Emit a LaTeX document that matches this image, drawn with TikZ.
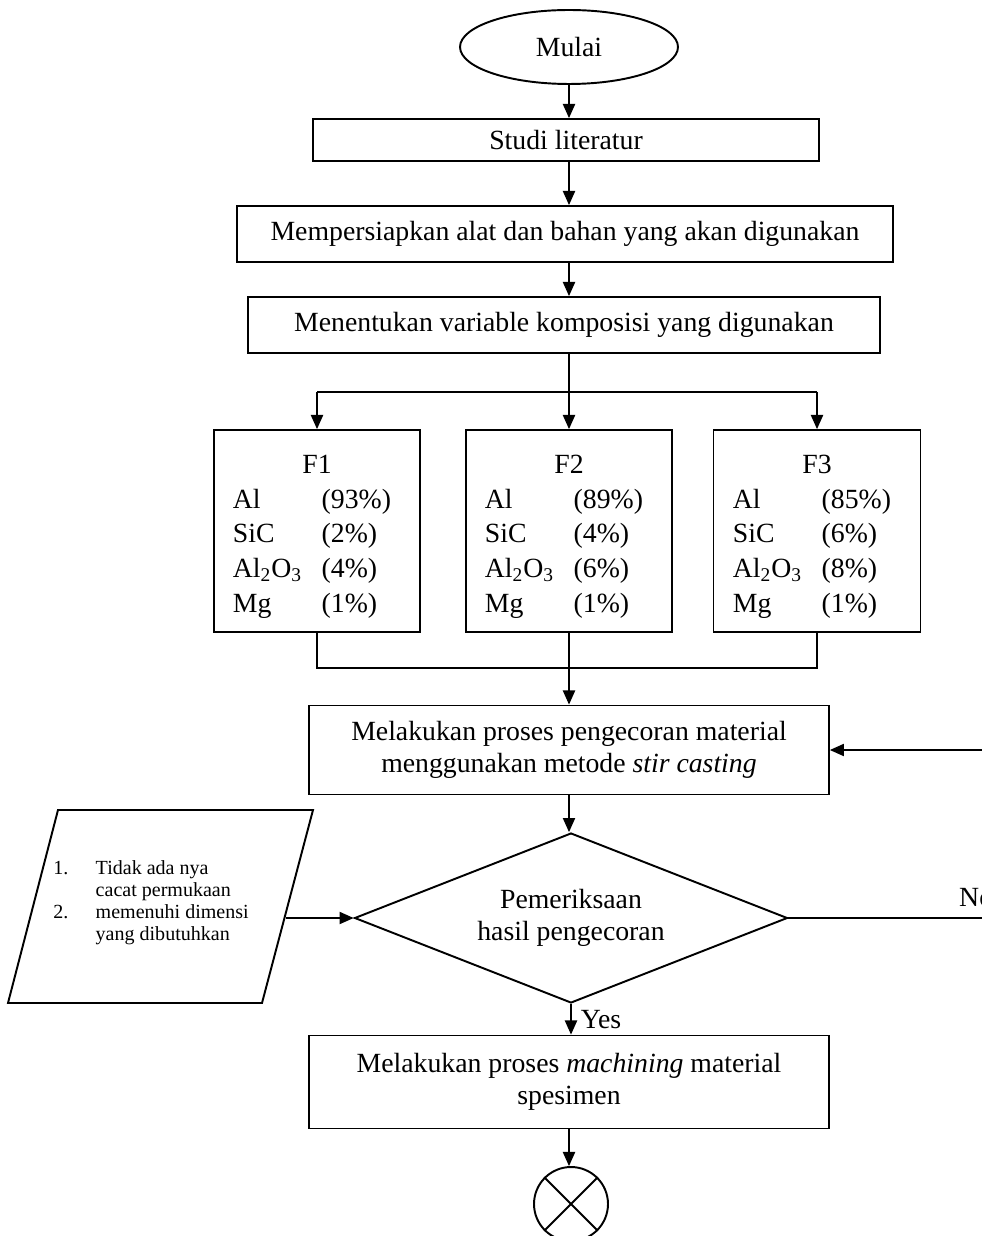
\documentclass[tikz,border=0pt]{standalone}
\usepackage{fontspec}
\setmainfont{Liberation Serif}
\usetikzlibrary{shapes.geometric,arrows.meta,positioning}

\begin{document}
\begin{tikzpicture}[x=0.02cm,y=-0.02cm,
    box/.style={draw,line width=1.1pt,inner sep=2pt,align=center,font=\fontsize{15.8}{18}\selectfont},
    fbox/.style={box,minimum width=4.12cm,minimum height=4.04cm,font=\fontsize{15.8}{18}\selectfont\renewcommand{\arraystretch}{1.1}},
    arr/.style={-{Triangle[length=8pt,width=7pt]},line width=0.6pt},
    ln/.style={line width=0.6pt},
    lbl/.style={font=\fontsize{15.8}{18}\selectfont}]
\useasboundingbox (0,0) rectangle (982,1236);
\node[box,ellipse,minimum width=4.36cm,minimum height=1.48cm] (mulai) at (569,47) {Mulai};
\node[box,minimum width=10.14cm,minimum height=0.84cm] (studi) at (566,140) {Studi literatur};
\node[box,minimum width=13.12cm,minimum height=1.12cm] (alat) at (565,234) {Mempersiapkan alat dan bahan yang akan digunakan};
\node[box,minimum width=12.64cm,minimum height=1.12cm] (var) at (564,325) {Menentukan variable komposisi yang digunakan};
% komposisi
\node[fbox] (f_1) at (317,531) {%
  \begin{tabular}{@{}p{50.5pt}@{}l@{\hspace{5.7pt}}}
  \multicolumn{2}{@{}c@{}}{F1}\\
  Al & (93\%)\\
  SiC & (2\%)\\
  Al\textsubscript{2}O\textsubscript{3} & (4\%)\\
  Mg & (1\%)\\[-5.6pt]
  \end{tabular}};
\node[fbox] (f_2) at (569,531) {%
  \begin{tabular}{@{}p{50.5pt}@{}l@{\hspace{5.7pt}}}
  \multicolumn{2}{@{}c@{}}{F2}\\
  Al & (89\%)\\
  SiC & (4\%)\\
  Al\textsubscript{2}O\textsubscript{3} & (6\%)\\
  Mg & (1\%)\\[-5.6pt]
  \end{tabular}};
\node[fbox,minimum width=4.14cm] (f_3) at (817,531) {%
  \begin{tabular}{@{}p{50.5pt}@{}l@{\hspace{5.7pt}}}
  \multicolumn{2}{@{}c@{}}{F3}\\
  Al & (85\%)\\
  SiC & (6\%)\\
  Al\textsubscript{2}O\textsubscript{3} & (8\%)\\
  Mg & (1\%)\\[-5.6pt]
  \end{tabular}};
\coordinate (split) at (569,392);
\coordinate (merge) at (569,668);
\node[box,minimum width=10.4cm,minimum height=1.78cm] (cor) at (569,750) {Melakukan proses pengecoran material\\menggunakan metode \textit{stir casting}};
\node[box,diamond,aspect=2.55,minimum width=8.66cm,minimum height=3.4cm,inner sep=0pt] (cek) at (571,918) {Pemeriksaan\\hasil pengecoran};
\node[font=\fontsize{11.4}{12.5}\selectfont,align=left] (syarat) at (151,903) {%
  \begin{tabular}{@{}l@{\hspace{15.6pt}}l@{}}
  1. & Tidak ada nya\\
     & cacat permukaan\\
  2. & memenuhi dimensi\\
     & yang dibutuhkan
  \end{tabular}};
\draw[line width=1.1pt] (58,810) -- (313,810) -- (262,1003) -- (8,1003) -- cycle;
\coordinate (syarat_out) at (286,918);
\node[box,minimum width=10.4cm,minimum height=1.86cm] (mach) at (569,1082) {Melakukan proses \textit{machining} material\\spesimen};
\node[draw,circle,line width=1.1pt,minimum size=1.48cm,inner sep=0pt] (end) at (571,1204) {};
\coordinate (loop) at (1000,918);
\draw[line width=1.1pt] (end.45) -- (end.225) (end.135) -- (end.-45);
\draw[arr] (mulai) -- (mulai.south |- studi.north);
\draw[arr] (studi.south -| mulai.south) -- (mulai.south |- alat.north);
\draw[arr] (alat.south -| mulai.south) -- (mulai.south |- var.north);
\draw[ln] (var.south -| split) -- (split);
\draw[ln] (f_1 |- split) -- (f_3 |- split);
\draw[arr] (split) -- (f_2.north);
\draw[arr] (f_1 |- split) -- (f_1.north);
\draw[arr] (f_3 |- split) -- (f_3.north);
\draw[ln] (f_1.south) -- (f_1 |- merge) -- (f_3 |- merge) -- (f_3.south);
\draw[ln] (f_2.south) -- (merge);
\draw[arr] (merge) -- (cor.north);
\draw[arr] (cor.south) -- (cor.south |- cek.north);
\draw[arr] (syarat_out) -- (cek.west);
\draw[arr] (cek.south) -- node[lbl,right,xshift=2pt] {Yes} (cek.south |- mach.north);
\draw[ln] (cek.east) -- (loop);
\node[lbl,anchor=base west] (no) at (953,906) {No};
\draw[arr] (loop) -- (loop |- cor.east) -- (cor.east);
\draw[arr] (mach.south) -- (mach.south |- end.north);
\end{tikzpicture}
\end{document}
